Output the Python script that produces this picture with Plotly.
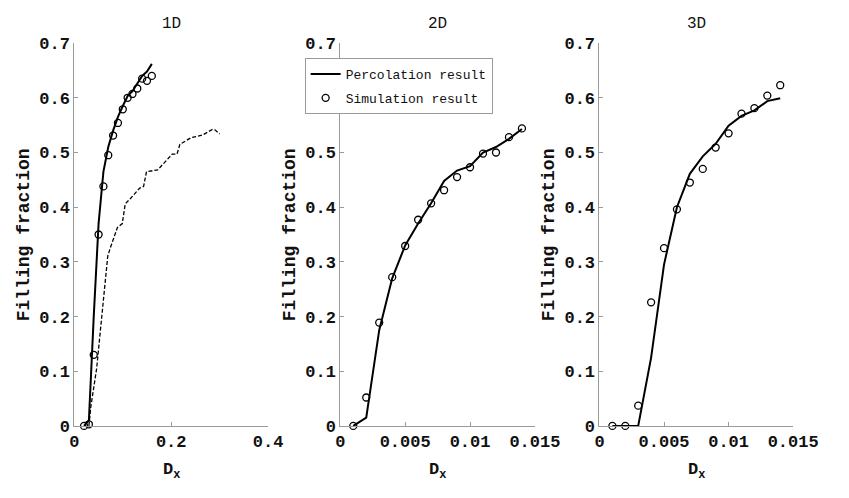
import plotly.graph_objects as go

# ---------------- data ----------------
# 1D
x1_sim = [0.02, 0.03, 0.04, 0.05, 0.06, 0.07, 0.08, 0.09, 0.10, 0.11, 0.12, 0.13, 0.14, 0.15, 0.16]
y1_sim = [0.0, 0.003, 0.13, 0.35, 0.438, 0.495, 0.531, 0.554, 0.579, 0.600, 0.607, 0.617, 0.635, 0.631, 0.640]
x1_perc = [0.02, 0.03, 0.04, 0.05, 0.06, 0.07, 0.08, 0.09, 0.10, 0.11, 0.12, 0.13, 0.14, 0.15, 0.16]
y1_perc = [0.0, 0.01, 0.20, 0.37, 0.465, 0.51, 0.54, 0.565, 0.585, 0.603, 0.612, 0.625, 0.640, 0.648, 0.662]
x1_dash = [0.030, 0.034, 0.046, 0.056, 0.069, 0.0756, 0.089, 0.099, 0.105, 0.115, 0.135, 0.143, 0.149,
           0.172, 0.192, 0.202, 0.212, 0.218, 0.241, 0.265, 0.285, 0.291, 0.300]
y1_dash = [0.0, 0.035, 0.105, 0.20, 0.311, 0.329, 0.363, 0.370, 0.406, 0.415, 0.435, 0.438, 0.465,
           0.468, 0.488, 0.497, 0.497, 0.515, 0.527, 0.532, 0.542, 0.541, 0.534]

# 2D
x2_sim = [0.001, 0.002, 0.003, 0.004, 0.005, 0.006, 0.007, 0.008, 0.009, 0.010, 0.011, 0.012, 0.013, 0.014]
y2_sim = [0.0, 0.052, 0.189, 0.272, 0.329, 0.377, 0.407, 0.431, 0.455, 0.473, 0.498, 0.500, 0.528, 0.544]
x2_perc = [0.001, 0.002, 0.003, 0.004, 0.005, 0.006, 0.007, 0.008, 0.009, 0.010, 0.011, 0.012, 0.013, 0.014]
y2_perc = [0.0, 0.015, 0.175, 0.27, 0.33, 0.37, 0.407, 0.448, 0.467, 0.475, 0.500, 0.510, 0.525, 0.543]

# 3D
x3_sim = [0.001, 0.002, 0.003, 0.004, 0.005, 0.006, 0.007, 0.008, 0.009, 0.010, 0.011, 0.012, 0.013, 0.014]
y3_sim = [0.0, 0.0, 0.037, 0.226, 0.325, 0.396, 0.445, 0.470, 0.509, 0.535, 0.571, 0.581, 0.604, 0.623]
x3_perc = [0.001, 0.002, 0.003, 0.004, 0.005, 0.006, 0.007, 0.008, 0.009, 0.010, 0.011, 0.012, 0.013, 0.014]
y3_perc = [0.0, 0.0, 0.0, 0.125, 0.295, 0.40, 0.461, 0.493, 0.516, 0.549, 0.567, 0.577, 0.594, 0.599]

panel_titles = ["1D", "2D", "3D"]
y_ticks = [0, 0.1, 0.2, 0.3, 0.4, 0.5, 0.6, 0.7]
y_ticktext = ["0", "0.1", "0.2", "0.3", "0.4", "0.5", "0.6", "0.7"]
x1_ticks = [0, 0.2, 0.4]
x1_ticktext = ["0", "0.2", "0.4"]
x23_ticks = [0, 0.005, 0.01, 0.015]
x23_ticktext = ["0", "0.005", "0.01", "0.015"]
legend_names = ["Percolation result", "Simulation result"]
y_label = "Filling fraction"
x_label = "D<sub>x</sub>"

FONT = "Liberation Mono"
W, H = 849, 498

fig = go.Figure()

line_style = dict(color="black", width=2)
marker_style = dict(symbol="circle-open", size=7, color="black", line=dict(width=1.3, color="black"))

# Panel 1
fig.add_trace(go.Scatter(x=x1_perc, y=y1_perc, mode="lines", line=line_style, legendgroup="a",
                         name=legend_names[0], showlegend=True, xaxis="x", yaxis="y"))
fig.add_trace(go.Scatter(x=x1_sim, y=y1_sim, mode="markers", marker=marker_style, cliponaxis=False,
                         legendgroup="b",
                         name=legend_names[1], showlegend=True, xaxis="x", yaxis="y"))
fig.add_trace(go.Scatter(x=x1_dash, y=y1_dash, mode="lines",
                         line=dict(color="black", width=1.3, dash="4px,2px"),
                         showlegend=False, xaxis="x", yaxis="y"))
# Panel 2
fig.add_trace(go.Scatter(x=x2_perc, y=y2_perc, mode="lines", line=line_style,
                         showlegend=False, xaxis="x2", yaxis="y2"))
fig.add_trace(go.Scatter(x=x2_sim, y=y2_sim, mode="markers", marker=marker_style, cliponaxis=False,
                         showlegend=False, xaxis="x2", yaxis="y2"))
# Panel 3
fig.add_trace(go.Scatter(x=x3_perc, y=y3_perc, mode="lines", line=line_style,
                         showlegend=False, xaxis="x3", yaxis="y3"))
fig.add_trace(go.Scatter(x=x3_sim, y=y3_sim, mode="markers", marker=marker_style, cliponaxis=False,
                         showlegend=False, xaxis="x3", yaxis="y3"))

# panel pixel geometry
x_px = [(72, 273), (348, 550), (617, 818)]
y_top, y_bot = 36.5, 434.5
ydom = [1 - y_bot / H, 1 - y_top / H]

axis_common = dict(showline=True, linecolor="#9a9a9a", linewidth=1, ticks="inside", ticklen=4,
                   tickcolor="#9a9a9a", showgrid=False, zeroline=False,
                   tickfont=dict(family=FONT, size=17, color="#111", weight="bold"))

layout = dict(width=W, height=H, autosize=False,
              margin=dict(l=0, r=0, t=0, b=0),
              paper_bgcolor="white", plot_bgcolor="white",
              showlegend=True,
              legend=dict(x=311 / W, y=1 - 52 / H, xanchor="left", yanchor="top",
                          bordercolor="#9a9a9a", borderwidth=1, bgcolor="white",
                          font=dict(family=FONT, size=13, color="#111"),
                          tracegroupgap=4, itemwidth=30, traceorder="grouped"))

annotations = []
for i, (a, b) in enumerate(x_px):
    sfx = "" if i == 0 else str(i + 1)
    xa = dict(axis_common, domain=[a / W, b / W], anchor="y" + sfx)
    if i == 0:
        xa.update(range=[0, 0.4], tickvals=x1_ticks, ticktext=x1_ticktext)
    else:
        xa.update(range=[0, 0.015], tickvals=x23_ticks, ticktext=x23_ticktext)
    ya = dict(axis_common, domain=ydom, anchor="x" + sfx, range=[0, 0.7],
              tickvals=y_ticks, ticktext=y_ticktext)
    layout["xaxis" + sfx] = xa
    layout["yaxis" + sfx] = ya
    cx = (a + b) / 2
    annotations.append(dict(text=panel_titles[i], x=cx / W, y=1 - 17 / H,
                            xref="paper", yref="paper", showarrow=False,
                            font=dict(family=FONT, size=16, color="#111"),
                            xanchor="center", yanchor="middle"))
    annotations.append(dict(text="<b>" + x_label + "</b>", x=cx / W, y=1 - 481 / H,
                            xref="paper", yref="paper", showarrow=False,
                            font=dict(family=FONT, size=17, color="#111"),
                            xanchor="center", yanchor="middle"))
    annotations.append(dict(text="<b>" + y_label + "</b>", x=(a - 52) / W, y=1 - 236 / H,
                            xref="paper", yref="paper", showarrow=False, textangle=-90,
                            font=dict(family=FONT, size=18, color="#111"),
                            xanchor="center", yanchor="middle"))
layout["annotations"] = annotations

fig.update_layout(**layout)
fig.write_html("out.html", config={"displayModeBar": False},
               post_script="document.body.style.margin='0';document.body.style.overflow='hidden';")
